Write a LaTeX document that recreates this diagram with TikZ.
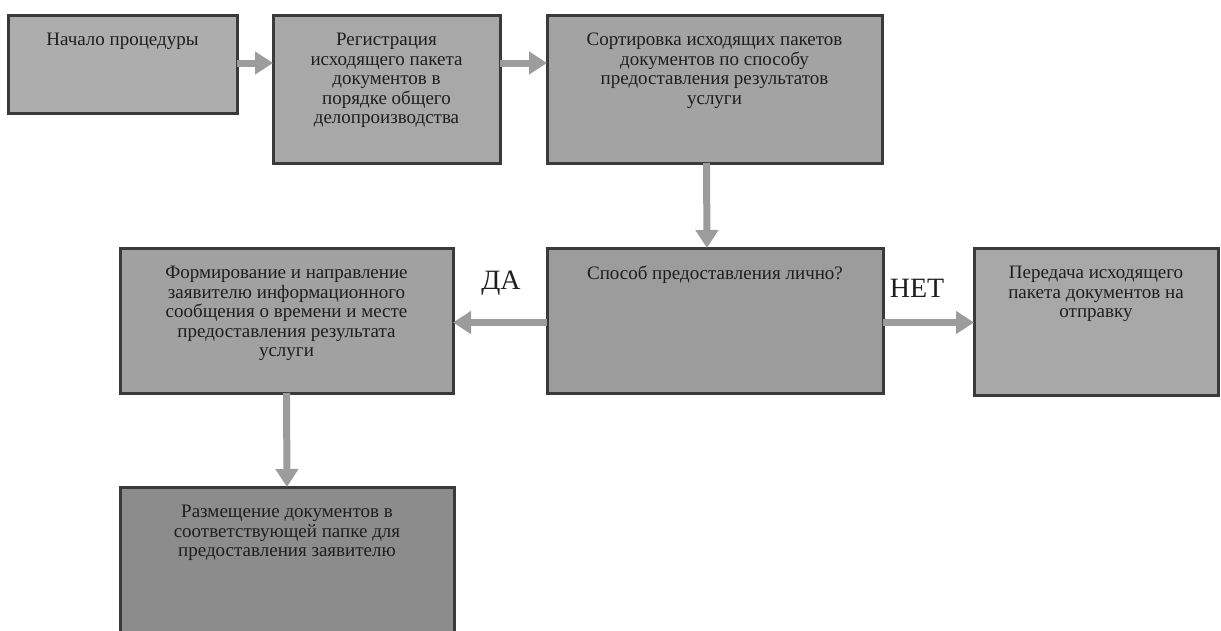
\documentclass[tikz,border=0pt]{standalone}
\usepackage{fontspec}
\setmainfont{Liberation Serif}
\usepackage{xcolor}
\usepackage{tikz}
\usetikzlibrary{arrows.meta,positioning}

\definecolor{boxline}{HTML}{3A3A3A}
\definecolor{boxtext}{HTML}{1E1E1E}
\definecolor{arrowgray}{HTML}{9C9C9C}

% text at the top of a box: width, height, lines
\newcommand{\boxtxt}[3]{\parbox[c][#2][t]{#1}{\centering\vspace*{11pt}#3}}

\begin{document}
\begin{tikzpicture}[
    x=1pt, y=-1pt,
    node distance=40pt,
    box/.style={rectangle, draw=boxline, line width=3pt, inner sep=0pt, outer sep=0pt, text=boxtext,
                font=\fontsize{19}{19.6}\selectfont},
    arrow/.style={-{Triangle[width=22pt,length=18pt]}, line width=7pt, draw=arrowgray},
    answer/.style={font=\fontsize{28}{30}\selectfont, text=boxtext}
]
    \useasboundingbox (0,0) rectangle (1221,630);

    % Top row
    \node[box, fill=black!32, minimum width=229pt, minimum height=98pt, anchor=north west] (start) at (8,15)
        {\boxtxt{220pt}{84pt}{Начало процедуры}};
    \node[box, fill=black!34, minimum width=227pt, minimum height=148pt,
          right=36pt of start.north east, anchor=north west] (reg)
        {\boxtxt{220pt}{134pt}{Регистрация\\ исходящего пакета\\ документов в\\ порядке общего\\ делопроизводства}};
    \node[box, fill=black!36, minimum width=335pt, minimum height=148pt,
          right=47pt of reg.north east, anchor=north west] (sort)
        {\boxtxt{325pt}{134pt}{Сортировка исходящих пакетов\\ документов по способу\\ предоставления результатов\\ услуги}};

    % Decision row
    \node[box, fill=black!39, minimum width=336pt, minimum height=145pt,
          below=85pt of sort.south west, anchor=north west] (decide)
        {\boxtxt{325pt}{131pt}{Способ предоставления лично?}};
    \node[box, fill=black!37, minimum width=333pt, minimum height=145pt,
          left=94pt of decide.north west, anchor=north east] (info)
        {\boxtxt{325pt}{131pt}{Формирование и направление\\ заявителю информационного\\ сообщения о времени и месте\\ предоставления результата\\ услуги}};
    \node[box, fill=black!34, minimum width=244pt, minimum height=147pt,
          right=91pt of decide.north east, anchor=north west] (send)
        {\boxtxt{235pt}{133pt}{Передача исходящего\\ пакета документов на\\ отправку}};

    % Bottom
    \node[box, fill=black!45, minimum width=334pt, minimum height=145pt,
          below=94pt of info.south west, anchor=north west] (place)
        {\boxtxt{325pt}{131pt}{Размещение документов в\\ соответствующей папке для\\ предоставления заявителю}};

    % Arrows
    \draw[arrow] ([yshift=1pt]start.east) -- ([yshift=1pt]start.east -| reg.west);
    \draw[arrow] ([yshift=1pt]start.east -| reg.east) -- ([yshift=1pt]start.east -| sort.west);
    \draw[arrow] ([xshift=-8pt]sort.south) -- ([xshift=-8pt]decide.north);
    \draw[arrow] ([yshift=-2pt]decide.west) -- ([yshift=-2pt]decide.west -| info.east);
    \draw[arrow] ([yshift=-2pt]decide.east) -- ([yshift=-2pt]decide.east -| send.west);
    \draw[arrow] (info.south) -- (place.north);

    % Labels
    \node[answer] (yes) at (501,283) {ДА};
    \node[answer] (no) at (917,288) {НЕТ};
\end{tikzpicture}
\end{document}
